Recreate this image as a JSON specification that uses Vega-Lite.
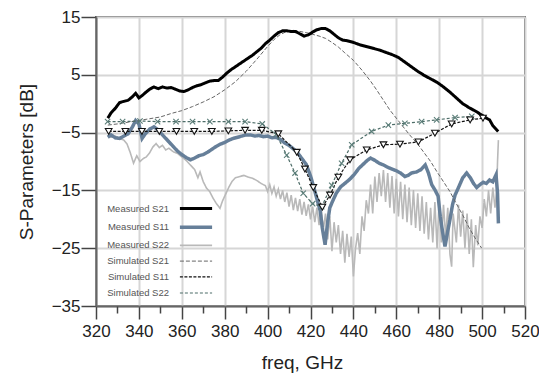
{
  "$schema": "https://vega.github.io/schema/vega-lite/v6.json",
  "width": 429,
  "height": 289,
  "autosize": "none",
  "padding": {"left": 96, "top": 17, "right": 14, "bottom": 75},
  "background": "white",
  "config": {
    "view": {"stroke": "#666", "strokeWidth": 2},
    "axis": {"labelFont": "Liberation Sans", "titleFont": "Liberation Sans", "labelColor": "#222", "titleColor": "#222", "titleFontWeight": "normal", "tickColor": "#444", "domainColor": "#666"},
    "legend": {"labelFont": "Liberation Sans", "labelFontSize": 9.5, "labelColor": "#555"}
  },
  "data": {"values": [
    {"s":"Measured S22","f":325.5,"v":-5.4},{"s":"Measured S22","f":327,"v":-5.8},{"s":"Measured S22","f":329,"v":-5.6},{"s":"Measured S22","f":331,"v":-6.0},{"s":"Measured S22","f":333,"v":-6.3},{"s":"Measured S22","f":334.5,"v":-7.0},{"s":"Measured S22","f":336,"v":-8.5},{"s":"Measured S22","f":337.5,"v":-10.3},{"s":"Measured S22","f":339,"v":-9.0},{"s":"Measured S22","f":340.5,"v":-10.0},{"s":"Measured S22","f":342,"v":-9.5},{"s":"Measured S22","f":343.5,"v":-9.2},{"s":"Measured S22","f":345,"v":-8.5},{"s":"Measured S22","f":346.5,"v":-7.5},{"s":"Measured S22","f":348,"v":-6.9},{"s":"Measured S22","f":349.5,"v":-7.6},{"s":"Measured S22","f":351,"v":-7.2},{"s":"Measured S22","f":352.5,"v":-8.0},{"s":"Measured S22","f":354,"v":-7.7},{"s":"Measured S22","f":356,"v":-8.3},{"s":"Measured S22","f":358,"v":-8.6},{"s":"Measured S22","f":360,"v":-9.2},{"s":"Measured S22","f":362,"v":-9.8},{"s":"Measured S22","f":364,"v":-10.6},{"s":"Measured S22","f":366,"v":-11.4},{"s":"Measured S22","f":367.5,"v":-12.8},{"s":"Measured S22","f":368.5,"v":-11.8},{"s":"Measured S22","f":370,"v":-13.5},{"s":"Measured S22","f":371.5,"v":-14.6},{"s":"Measured S22","f":373,"v":-15.2},{"s":"Measured S22","f":374.5,"v":-16.3},{"s":"Measured S22","f":376,"v":-17.2},{"s":"Measured S22","f":377.8,"v":-18.1},{"s":"Measured S22","f":379,"v":-16.8},{"s":"Measured S22","f":380.5,"v":-15.6},{"s":"Measured S22","f":382,"v":-14.4},{"s":"Measured S22","f":383.5,"v":-13.4},{"s":"Measured S22","f":385,"v":-12.8},{"s":"Measured S22","f":387,"v":-12.6},{"s":"Measured S22","f":389,"v":-12.4},{"s":"Measured S22","f":391,"v":-12.7},{"s":"Measured S22","f":393,"v":-12.9},{"s":"Measured S22","f":395,"v":-13.3},{"s":"Measured S22","f":397,"v":-13.8},{"s":"Measured S22","f":399,"v":-14.2},{"s":"Measured S22","f":400,"v":-15.2},{"s":"Measured S22","f":401,"v":-14.0},{"s":"Measured S22","f":402,"v":-15.5},{"s":"Measured S22","f":403,"v":-14.4},{"s":"Measured S22","f":404,"v":-16.0},{"s":"Measured S22","f":405,"v":-14.8},{"s":"Measured S22","f":406,"v":-16.5},{"s":"Measured S22","f":407,"v":-15.0},{"s":"Measured S22","f":408,"v":-17.0},{"s":"Measured S22","f":409,"v":-15.4},{"s":"Measured S22","f":410,"v":-17.8},{"s":"Measured S22","f":411,"v":-15.8},{"s":"Measured S22","f":412,"v":-18.4},{"s":"Measured S22","f":413,"v":-16.3},{"s":"Measured S22","f":414,"v":-18.6},{"s":"Measured S22","f":415,"v":-16.5},{"s":"Measured S22","f":416,"v":-19.2},{"s":"Measured S22","f":417,"v":-17.0},{"s":"Measured S22","f":418,"v":-19.4},{"s":"Measured S22","f":419,"v":-17.4},{"s":"Measured S22","f":420,"v":-20.0},{"s":"Measured S22","f":421,"v":-17.8},{"s":"Measured S22","f":422,"v":-20.5},{"s":"Measured S22","f":423,"v":-18.0},{"s":"Measured S22","f":424,"v":-21.0},{"s":"Measured S22","f":425,"v":-18.2},{"s":"Measured S22","f":426,"v":-21.8},{"s":"Measured S22","f":427,"v":-19.0},{"s":"Measured S22","f":428,"v":-23.5},{"s":"Measured S22","f":429,"v":-19.5},{"s":"Measured S22","f":430,"v":-25.5},{"s":"Measured S22","f":431,"v":-20.5},{"s":"Measured S22","f":432,"v":-24.0},{"s":"Measured S22","f":433,"v":-21.0},{"s":"Measured S22","f":434,"v":-26.0},{"s":"Measured S22","f":435,"v":-22.0},{"s":"Measured S22","f":436,"v":-27.5},{"s":"Measured S22","f":437,"v":-22.5},{"s":"Measured S22","f":438,"v":-26.5},{"s":"Measured S22","f":439,"v":-23.0},{"s":"Measured S22","f":440,"v":-29.9},{"s":"Measured S22","f":441,"v":-25.0},{"s":"Measured S22","f":442,"v":-22.4},{"s":"Measured S22","f":443,"v":-26.0},{"s":"Measured S22","f":444,"v":-19.5},{"s":"Measured S22","f":445,"v":-22.0},{"s":"Measured S22","f":446,"v":-16.7},{"s":"Measured S22","f":447,"v":-19.0},{"s":"Measured S22","f":448,"v":-14.0},{"s":"Measured S22","f":449,"v":-19.0},{"s":"Measured S22","f":450,"v":-12.6},{"s":"Measured S22","f":451,"v":-17.0},{"s":"Measured S22","f":452,"v":-12.0},{"s":"Measured S22","f":453,"v":-16.0},{"s":"Measured S22","f":454,"v":-11.5},{"s":"Measured S22","f":455,"v":-17.0},{"s":"Measured S22","f":456,"v":-12.0},{"s":"Measured S22","f":457,"v":-18.0},{"s":"Measured S22","f":458,"v":-12.5},{"s":"Measured S22","f":459,"v":-19.0},{"s":"Measured S22","f":460,"v":-13.0},{"s":"Measured S22","f":461,"v":-19.5},{"s":"Measured S22","f":462,"v":-13.5},{"s":"Measured S22","f":463,"v":-20.0},{"s":"Measured S22","f":464,"v":-14.0},{"s":"Measured S22","f":465,"v":-20.5},{"s":"Measured S22","f":466,"v":-14.5},{"s":"Measured S22","f":467,"v":-21.0},{"s":"Measured S22","f":468,"v":-15.0},{"s":"Measured S22","f":469,"v":-21.5},{"s":"Measured S22","f":470,"v":-15.5},{"s":"Measured S22","f":471,"v":-22.0},{"s":"Measured S22","f":472,"v":-16.0},{"s":"Measured S22","f":473,"v":-22.5},{"s":"Measured S22","f":474,"v":-17.0},{"s":"Measured S22","f":475,"v":-23.5},{"s":"Measured S22","f":476,"v":-18.0},{"s":"Measured S22","f":477,"v":-24.0},{"s":"Measured S22","f":478,"v":-17.0},{"s":"Measured S22","f":479,"v":-25.0},{"s":"Measured S22","f":480,"v":-16.5},{"s":"Measured S22","f":481,"v":-24.0},{"s":"Measured S22","f":482,"v":-17.5},{"s":"Measured S22","f":483,"v":-23.0},{"s":"Measured S22","f":484,"v":-18.0},{"s":"Measured S22","f":485,"v":-26.0},{"s":"Measured S22","f":485.8,"v":-28.2},{"s":"Measured S22","f":486.5,"v":-19.0},{"s":"Measured S22","f":488,"v":-24.0},{"s":"Measured S22","f":489,"v":-17.5},{"s":"Measured S22","f":490,"v":-23.0},{"s":"Measured S22","f":491,"v":-18.5},{"s":"Measured S22","f":492,"v":-25.0},{"s":"Measured S22","f":493,"v":-19.0},{"s":"Measured S22","f":494,"v":-26.0},{"s":"Measured S22","f":495,"v":-20.0},{"s":"Measured S22","f":495.9,"v":-28.3},{"s":"Measured S22","f":497,"v":-21.0},{"s":"Measured S22","f":498,"v":-24.5},{"s":"Measured S22","f":499,"v":-19.5},{"s":"Measured S22","f":500,"v":-21.5},{"s":"Measured S22","f":501,"v":-16.5},{"s":"Measured S22","f":502,"v":-19.5},{"s":"Measured S22","f":503,"v":-15.0},{"s":"Measured S22","f":504,"v":-19.0},{"s":"Measured S22","f":505,"v":-14.5},{"s":"Measured S22","f":506,"v":-18.0},{"s":"Measured S22","f":506.8,"v":-15.0},{"s":"Measured S22","f":507.2,"v":-10.0},{"s":"Measured S22","f":507.6,"v":-6.3},

    {"s":"Measured S11","f":325.5,"v":-5.8},{"s":"Measured S11","f":327,"v":-5.4},{"s":"Measured S11","f":329,"v":-5.9},{"s":"Measured S11","f":331,"v":-6.0},{"s":"Measured S11","f":333,"v":-5.6},{"s":"Measured S11","f":335,"v":-5.2},{"s":"Measured S11","f":337,"v":-4.0},{"s":"Measured S11","f":338.5,"v":-2.9},{"s":"Measured S11","f":340,"v":-3.5},{"s":"Measured S11","f":341.5,"v":-6.0},{"s":"Measured S11","f":343,"v":-5.2},{"s":"Measured S11","f":345,"v":-4.4},{"s":"Measured S11","f":347,"v":-4.0},{"s":"Measured S11","f":348.5,"v":-4.4},{"s":"Measured S11","f":350,"v":-5.0},{"s":"Measured S11","f":352,"v":-5.8},{"s":"Measured S11","f":354,"v":-6.6},{"s":"Measured S11","f":356,"v":-7.4},{"s":"Measured S11","f":358,"v":-8.2},{"s":"Measured S11","f":360,"v":-8.8},{"s":"Measured S11","f":362,"v":-9.3},{"s":"Measured S11","f":364,"v":-9.7},{"s":"Measured S11","f":366,"v":-9.4},{"s":"Measured S11","f":368,"v":-9.0},{"s":"Measured S11","f":370,"v":-8.8},{"s":"Measured S11","f":372,"v":-8.4},{"s":"Measured S11","f":374,"v":-7.9},{"s":"Measured S11","f":376,"v":-7.4},{"s":"Measured S11","f":378,"v":-7.0},{"s":"Measured S11","f":380,"v":-6.7},{"s":"Measured S11","f":382,"v":-6.3},{"s":"Measured S11","f":384,"v":-6.0},{"s":"Measured S11","f":386,"v":-5.8},{"s":"Measured S11","f":388,"v":-5.6},{"s":"Measured S11","f":390,"v":-5.4},{"s":"Measured S11","f":392,"v":-5.4},{"s":"Measured S11","f":394,"v":-5.6},{"s":"Measured S11","f":396,"v":-5.5},{"s":"Measured S11","f":398,"v":-5.7},{"s":"Measured S11","f":400,"v":-5.6},{"s":"Measured S11","f":402,"v":-5.9},{"s":"Measured S11","f":404,"v":-5.8},{"s":"Measured S11","f":406,"v":-6.2},{"s":"Measured S11","f":408,"v":-6.8},{"s":"Measured S11","f":410,"v":-7.2},{"s":"Measured S11","f":412,"v":-7.8},{"s":"Measured S11","f":414,"v":-8.5},{"s":"Measured S11","f":416,"v":-9.5},{"s":"Measured S11","f":418,"v":-10.5},{"s":"Measured S11","f":420,"v":-12.5},{"s":"Measured S11","f":421.5,"v":-14.4},{"s":"Measured S11","f":423,"v":-16.5},{"s":"Measured S11","f":424.5,"v":-18.5},{"s":"Measured S11","f":425.5,"v":-21.5},{"s":"Measured S11","f":426.8,"v":-24.4},{"s":"Measured S11","f":428,"v":-20.5},{"s":"Measured S11","f":429,"v":-18.0},{"s":"Measured S11","f":430.5,"v":-16.7},{"s":"Measured S11","f":432,"v":-15.5},{"s":"Measured S11","f":434,"v":-14.4},{"s":"Measured S11","f":436,"v":-13.8},{"s":"Measured S11","f":438.5,"v":-13.0},{"s":"Measured S11","f":440.5,"v":-12.2},{"s":"Measured S11","f":442.5,"v":-11.2},{"s":"Measured S11","f":444.5,"v":-10.5},{"s":"Measured S11","f":446.5,"v":-9.8},{"s":"Measured S11","f":448,"v":-9.4},{"s":"Measured S11","f":450,"v":-9.8},{"s":"Measured S11","f":452,"v":-10.3},{"s":"Measured S11","f":454,"v":-10.6},{"s":"Measured S11","f":456,"v":-11.0},{"s":"Measured S11","f":458,"v":-11.3},{"s":"Measured S11","f":460,"v":-11.6},{"s":"Measured S11","f":462,"v":-12.0},{"s":"Measured S11","f":464,"v":-12.6},{"s":"Measured S11","f":465.5,"v":-12.4},{"s":"Measured S11","f":467,"v":-12.0},{"s":"Measured S11","f":469.5,"v":-11.8},{"s":"Measured S11","f":471.5,"v":-11.4},{"s":"Measured S11","f":473.5,"v":-10.6},{"s":"Measured S11","f":475,"v":-12.0},{"s":"Measured S11","f":476.5,"v":-14.0},{"s":"Measured S11","f":478,"v":-14.9},{"s":"Measured S11","f":479.5,"v":-16.0},{"s":"Measured S11","f":480.5,"v":-19.5},{"s":"Measured S11","f":481.5,"v":-22.0},{"s":"Measured S11","f":482.7,"v":-24.7},{"s":"Measured S11","f":484,"v":-22.0},{"s":"Measured S11","f":485,"v":-20.1},{"s":"Measured S11","f":486.2,"v":-17.5},{"s":"Measured S11","f":487.4,"v":-15.8},{"s":"Measured S11","f":489,"v":-14.5},{"s":"Measured S11","f":491,"v":-12.8},{"s":"Measured S11","f":492.8,"v":-12.0},{"s":"Measured S11","f":494.5,"v":-12.8},{"s":"Measured S11","f":496,"v":-13.8},{"s":"Measured S11","f":497.5,"v":-14.5},{"s":"Measured S11","f":499,"v":-14.0},{"s":"Measured S11","f":500.5,"v":-13.6},{"s":"Measured S11","f":502,"v":-13.8},{"s":"Measured S11","f":503.5,"v":-13.2},{"s":"Measured S11","f":505,"v":-13.5},{"s":"Measured S11","f":506.5,"v":-12.3},{"s":"Measured S11","f":507.2,"v":-15.5},{"s":"Measured S11","f":507.6,"v":-20.7},

    {"s":"Simulated S21","f":325.5,"v":-3.7},{"s":"Simulated S21","f":330,"v":-3.5},{"s":"Simulated S21","f":335,"v":-3.2},{"s":"Simulated S21","f":340,"v":-2.9},{"s":"Simulated S21","f":345,"v":-2.6},{"s":"Simulated S21","f":350,"v":-2.3},{"s":"Simulated S21","f":355,"v":-1.7},{"s":"Simulated S21","f":360,"v":-1.2},{"s":"Simulated S21","f":365,"v":-0.5},{"s":"Simulated S21","f":370,"v":0.3},{"s":"Simulated S21","f":375,"v":1.2},{"s":"Simulated S21","f":380,"v":2.4},{"s":"Simulated S21","f":385,"v":3.8},{"s":"Simulated S21","f":390,"v":5.6},{"s":"Simulated S21","f":395,"v":7.7},{"s":"Simulated S21","f":400,"v":9.9},{"s":"Simulated S21","f":403,"v":11.1},{"s":"Simulated S21","f":406,"v":12.0},{"s":"Simulated S21","f":409,"v":12.5},{"s":"Simulated S21","f":412,"v":12.7},{"s":"Simulated S21","f":415,"v":12.5},{"s":"Simulated S21","f":418,"v":12.3},{"s":"Simulated S21","f":421,"v":12.0},{"s":"Simulated S21","f":424,"v":11.7},{"s":"Simulated S21","f":427,"v":11.3},{"s":"Simulated S21","f":430,"v":10.6},{"s":"Simulated S21","f":433,"v":9.8},{"s":"Simulated S21","f":436,"v":8.8},{"s":"Simulated S21","f":440,"v":7.5},{"s":"Simulated S21","f":444,"v":5.8},{"s":"Simulated S21","f":448,"v":3.9},{"s":"Simulated S21","f":451,"v":2.3},{"s":"Simulated S21","f":454,"v":0.6},{"s":"Simulated S21","f":457,"v":-1.1},{"s":"Simulated S21","f":460,"v":-2.5},{"s":"Simulated S21","f":463,"v":-3.9},{"s":"Simulated S21","f":466,"v":-5.3},{"s":"Simulated S21","f":470,"v":-7.0},{"s":"Simulated S21","f":473,"v":-8.5},{"s":"Simulated S21","f":476,"v":-10.0},{"s":"Simulated S21","f":479,"v":-11.8},{"s":"Simulated S21","f":482,"v":-13.5},{"s":"Simulated S21","f":485,"v":-15.2},{"s":"Simulated S21","f":488,"v":-17.3},{"s":"Simulated S21","f":491,"v":-19.3},{"s":"Simulated S21","f":494,"v":-21.5},{"s":"Simulated S21","f":497,"v":-23.4},{"s":"Simulated S21","f":499.8,"v":-25.0},

    {"s":"Measured S21","f":325.5,"v":-2.5},{"s":"Measured S21","f":327,"v":-1.6},{"s":"Measured S21","f":329,"v":-0.8},{"s":"Measured S21","f":331,"v":0.2},{"s":"Measured S21","f":333,"v":0.4},{"s":"Measured S21","f":335,"v":0.6},{"s":"Measured S21","f":337,"v":1.2},{"s":"Measured S21","f":338.5,"v":1.8},{"s":"Measured S21","f":340,"v":1.0},{"s":"Measured S21","f":341.5,"v":1.4},{"s":"Measured S21","f":343,"v":1.9},{"s":"Measured S21","f":345,"v":2.5},{"s":"Measured S21","f":347,"v":2.9},{"s":"Measured S21","f":349,"v":2.6},{"s":"Measured S21","f":351,"v":2.9},{"s":"Measured S21","f":353,"v":2.7},{"s":"Measured S21","f":355,"v":2.8},{"s":"Measured S21","f":357,"v":2.5},{"s":"Measured S21","f":359,"v":2.2},{"s":"Measured S21","f":361,"v":2.1},{"s":"Measured S21","f":363,"v":2.4},{"s":"Measured S21","f":365,"v":2.8},{"s":"Measured S21","f":367,"v":3.1},{"s":"Measured S21","f":369,"v":3.3},{"s":"Measured S21","f":371,"v":3.6},{"s":"Measured S21","f":373,"v":3.9},{"s":"Measured S21","f":375,"v":4.0},{"s":"Measured S21","f":377,"v":4.0},{"s":"Measured S21","f":379,"v":4.6},{"s":"Measured S21","f":381,"v":5.3},{"s":"Measured S21","f":383,"v":5.9},{"s":"Measured S21","f":385,"v":6.4},{"s":"Measured S21","f":387,"v":6.9},{"s":"Measured S21","f":389,"v":7.4},{"s":"Measured S21","f":391,"v":7.9},{"s":"Measured S21","f":393,"v":8.4},{"s":"Measured S21","f":395,"v":9.0},{"s":"Measured S21","f":397,"v":9.6},{"s":"Measured S21","f":399,"v":10.4},{"s":"Measured S21","f":401,"v":11.0},{"s":"Measured S21","f":403,"v":11.7},{"s":"Measured S21","f":405,"v":12.3},{"s":"Measured S21","f":407,"v":12.6},{"s":"Measured S21","f":409,"v":12.6},{"s":"Measured S21","f":411,"v":12.5},{"s":"Measured S21","f":413,"v":12.5},{"s":"Measured S21","f":415,"v":12.1},{"s":"Measured S21","f":417,"v":11.7},{"s":"Measured S21","f":419,"v":11.9},{"s":"Measured S21","f":421,"v":12.4},{"s":"Measured S21","f":423,"v":12.8},{"s":"Measured S21","f":425,"v":13.0},{"s":"Measured S21","f":427,"v":13.0},{"s":"Measured S21","f":429,"v":12.6},{"s":"Measured S21","f":431,"v":12.0},{"s":"Measured S21","f":433,"v":11.4},{"s":"Measured S21","f":435,"v":11.0},{"s":"Measured S21","f":437,"v":10.9},{"s":"Measured S21","f":440,"v":10.6},{"s":"Measured S21","f":443,"v":10.2},{"s":"Measured S21","f":446,"v":9.9},{"s":"Measured S21","f":449,"v":9.6},{"s":"Measured S21","f":452,"v":9.3},{"s":"Measured S21","f":455,"v":8.9},{"s":"Measured S21","f":458,"v":8.5},{"s":"Measured S21","f":461,"v":8.0},{"s":"Measured S21","f":464,"v":7.2},{"s":"Measured S21","f":467,"v":6.4},{"s":"Measured S21","f":470,"v":5.6},{"s":"Measured S21","f":473,"v":4.9},{"s":"Measured S21","f":476,"v":4.3},{"s":"Measured S21","f":479,"v":3.7},{"s":"Measured S21","f":482,"v":2.9},{"s":"Measured S21","f":485,"v":2.0},{"s":"Measured S21","f":488,"v":1.0},{"s":"Measured S21","f":491,"v":0.0},{"s":"Measured S21","f":494,"v":-0.7},{"s":"Measured S21","f":497,"v":-1.3},{"s":"Measured S21","f":500,"v":-2.0},{"s":"Measured S21","f":502,"v":-2.5},{"s":"Measured S21","f":503.5,"v":-2.8},{"s":"Measured S21","f":505,"v":-3.8},{"s":"Measured S21","f":507.5,"v":-4.8},

    {"s":"Simulated S22","f":325.4,"v":-3.1},{"s":"Simulated S22","f":332.4,"v":-3.1},{"s":"Simulated S22","f":340.5,"v":-3.0},{"s":"Simulated S22","f":348.7,"v":-3.1},{"s":"Simulated S22","f":357.3,"v":-3.1},{"s":"Simulated S22","f":365,"v":-3.1},{"s":"Simulated S22","f":373.1,"v":-3.1},{"s":"Simulated S22","f":381.7,"v":-3.1},{"s":"Simulated S22","f":389.5,"v":-3.1},{"s":"Simulated S22","f":397.5,"v":-3.5},{"s":"Simulated S22","f":404,"v":-5.3},{"s":"Simulated S22","f":408.9,"v":-8.9},{"s":"Simulated S22","f":412.8,"v":-12.0},{"s":"Simulated S22","f":416.6,"v":-15.5},{"s":"Simulated S22","f":421,"v":-17.3},{"s":"Simulated S22","f":425.2,"v":-17.8},{"s":"Simulated S22","f":429.9,"v":-14.1},{"s":"Simulated S22","f":434.5,"v":-10.3},{"s":"Simulated S22","f":439.2,"v":-7.1},{"s":"Simulated S22","f":448.5,"v":-4.8},{"s":"Simulated S22","f":456.3,"v":-3.7},{"s":"Simulated S22","f":464,"v":-3.4},{"s":"Simulated S22","f":471.8,"v":-3.1},{"s":"Simulated S22","f":478.8,"v":-2.8},{"s":"Simulated S22","f":487.4,"v":-2.4},{"s":"Simulated S22","f":495.2,"v":-2.2},

    {"s":"Simulated S11","f":325.9,"v":-4.8},{"s":"Simulated S11","f":333.7,"v":-4.8},{"s":"Simulated S11","f":341.4,"v":-4.8},{"s":"Simulated S11","f":349.5,"v":-4.8},{"s":"Simulated S11","f":357.5,"v":-4.8},{"s":"Simulated S11","f":365.8,"v":-4.8},{"s":"Simulated S11","f":374,"v":-4.8},{"s":"Simulated S11","f":381.7,"v":-4.7},{"s":"Simulated S11","f":389.5,"v":-4.6},{"s":"Simulated S11","f":397.3,"v":-4.6},{"s":"Simulated S11","f":405,"v":-5.2},{"s":"Simulated S11","f":413.6,"v":-8.4},{"s":"Simulated S11","f":417.4,"v":-11.3},{"s":"Simulated S11","f":421.3,"v":-14.5},{"s":"Simulated S11","f":425.5,"v":-17.9},{"s":"Simulated S11","f":429.1,"v":-15.8},{"s":"Simulated S11","f":433,"v":-12.7},{"s":"Simulated S11","f":438.4,"v":-9.7},{"s":"Simulated S11","f":446.2,"v":-8.0},{"s":"Simulated S11","f":454,"v":-7.1},{"s":"Simulated S11","f":461.7,"v":-7.0},{"s":"Simulated S11","f":470.3,"v":-6.6},{"s":"Simulated S11","f":478,"v":-5.1},{"s":"Simulated S11","f":485.8,"v":-3.5},{"s":"Simulated S11","f":494.4,"v":-2.8},{"s":"Simulated S11","f":500.4,"v":-2.5}
  ]},
  "layer": [
    {
      "mark": {"type": "line", "interpolate": "linear"},
      "encoding": {
        "x": {"field": "f", "type": "quantitative",
          "scale": {"domain": [320, 520], "nice": false, "zero": false},
          "axis": {"orient": "bottom", "values": [320,340,360,380,400,420,440,460,480,500,520], "grid": true, "gridColor": "#d6d6d6", "gridWidth": 2, "tickSize": 13, "tickWidth": 1.5, "labelFontSize": 17, "labelPadding": 4, "title": "freq, GHz", "titleFontSize": 19, "titlePadding": 14, "titleX": 206, "domainWidth": 2, "labelFlush": false}},
        "y": {"field": "v", "type": "quantitative",
          "scale": {"domain": [-35, 15], "nice": false, "zero": false},
          "axis": {"values": [-35,-30,-25,-20,-15,-10,-5,0,5,10,15], "grid": true, "gridColor": "#d6d6d6", "gridWidth": 2, "tickSize": 15, "tickWidth": 1.5, "labelFontSize": 17, "labelPadding": 1, "title": "S-Parameters [dB]", "titleFontSize": 19, "titlePadding": 15, "domainWidth": 2, "labelFlush": false}},
        "color": {"field": "s", "type": "nominal",
          "scale": {"domain": ["Measured S21","Measured S11","Measured S22","Simulated S21","Simulated S11","Simulated S22"], "range": ["#000000","#667f99","#b9b9b9","#666666","#111111","#4d6d68"]},
          "legend": {"title": null, "orient": "none", "legendX": 89, "legendY": 181, "symbolType": "M-2.3,0H2.3", "symbolSize": 196, "labelAlign": "right", "labelOffset": -36, "rowPadding": 3.2, "padding": 2}},
        "strokeDash": {"field": "s", "type": "nominal",
          "scale": {"domain": ["Measured S21","Measured S11","Measured S22","Simulated S21","Simulated S11","Simulated S22"], "range": [[1,0],[1,0],[1,0],[4,2],[3,1.5],[3,2]]},
          "legend": {"title": null}},
        "strokeWidth": {"field": "s", "type": "nominal",
          "scale": {"type": "ordinal", "domain": ["Measured S21","Measured S11","Measured S22","Simulated S21","Simulated S11","Simulated S22"], "range": [3,3.5,1.6,1,1.2,1.2]},
          "legend": {"title": null}}
      }
    },
    {
      "transform": [{"filter": "datum.s === 'Simulated S11' || datum.s === 'Simulated S22'"}],
      "mark": {"type": "point", "filled": true, "fill": "white", "size": 45, "strokeWidth": 1.1, "opacity": 1},
      "encoding": {
        "x": {"field": "f", "type": "quantitative",
          "axis": {"orient": "bottom", "values": [330,350,370,390,410,430,450,470,490,510], "grid": false, "tickSize": 7, "tickWidth": 1.5, "labels": false, "domain": false, "title": null}},
        "y": {"field": "v", "type": "quantitative"},
        "shape": {"field": "s", "type": "nominal", "scale": {"domain": ["Simulated S11","Simulated S22"], "range": ["triangle-down", "M-0.8,-0.8L0.8,0.8M-0.8,0.8L0.8,-0.8"]}, "legend": null},
        "stroke": {"field": "s", "type": "nominal", "scale": {"domain": ["Simulated S11","Simulated S22"], "range": ["#111111", "#5a7d78"]}, "legend": null}
      }
    }
  ],
  "resolve": {"axis": {"x": "independent"}}
}
